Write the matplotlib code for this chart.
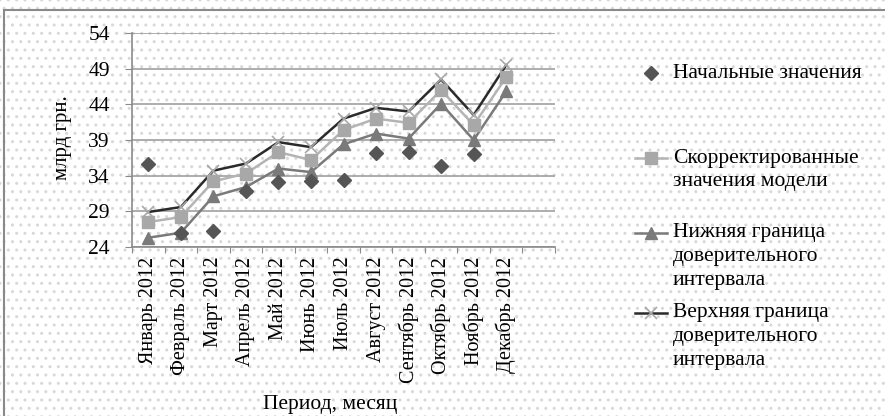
import matplotlib
matplotlib.use("Agg")

import matplotlib.pyplot as plt
import numpy as np
from matplotlib.lines import Line2D
from matplotlib.patches import Rectangle

plt.rcParams['font.family'] = ['Liberation Serif', 'DejaVu Serif']

months = ["Январь 2012", "Февраль 2012", "Март 2012", "Апрель 2012", "Май 2012",
          "Июнь 2012", "Июль 2012", "Август 2012", "Сентябрь 2012",
          "Октябрь 2012", "Ноябрь 2012", "Декабрь 2012"]

initial = [35.7, 25.9, 26.3, 31.9, 33.1, 33.3, 33.4, 37.2, 37.3, 35.3, 37.0, np.nan]
corrected = [27.5, 28.2, 33.2, 34.3, 37.3, 36.2, 40.4, 42.0, 41.4, 46.0, 41.1, 47.8]
lower = [25.3, 26.0, 31.1, 32.4, 35.0, 34.5, 38.4, 39.9, 39.2, 44.1, 39.0, 45.8]
upper = [28.9, 29.6, 34.7, 35.7, 38.7, 38.0, 42.0, 43.5, 43.0, 47.5, 42.5, 49.5]

yticks = [24, 29, 34, 39, 44, 49, 54]

fig = plt.figure(figsize=(8.85, 4.16), dpi=100)

# dotted backdrop and frame
bg = Rectangle((0, 0), 1, 1, transform=fig.transFigure, facecolor='white',
               edgecolor='#d8d8d8', hatch='..', linewidth=0, zorder=-10)
fig.add_artist(bg)
frame = Rectangle((4 / 885, -0.05), 1.0, 1 - 10 / 416 + 0.05, transform=fig.transFigure,
                  facecolor='none', edgecolor='#8a8a8a', linewidth=1.5, zorder=-5)
fig.add_artist(frame)

ax = fig.add_axes([132 / 885, 1 - 247 / 416, (555 - 132) / 885, (247 - 33) / 416])
ax.set_facecolor('none')

x = np.arange(len(months)) + 0.5

ax.plot(x, upper, color='#2a2a2a', lw=1.8, marker='x', ms=9, mew=1.2,
        mec='#a8a8a8', zorder=3)
ax.plot(x, corrected, color='#b4b4b4', lw=1.8, marker='s', ms=8,
        mfc='#a8a8a8', mec='#a8a8a8', zorder=4)
ax.plot(x, lower, color='#7a7a7a', lw=1.8, marker='^', ms=8,
        mfc='#7a7a7a', mec='#7a7a7a', zorder=3)
ax.plot(x, initial, ls='none', marker='D', ms=7, mfc='#555555', mec='#555555', zorder=5)

ax.set_xlim(0, len(months) + 1)
ax.set_ylim(24, 54)
ax.set_yticks(yticks)
ax.set_yticklabels([str(v) for v in yticks], fontsize=15.5)
ax.grid(axis='y', color='#a0a0a0', lw=1.2)
ax.set_axisbelow(True)

ax.set_xticks(np.arange(len(months) + 2))
ax.set_xticklabels([])
ax.set_xticks(x, minor=True)
ax.set_xticklabels(months, minor=True, rotation=90, fontsize=14.5)
ax.tick_params(axis='x', which='minor', length=0, pad=7)
ax.tick_params(axis='x', which='major', length=4, color='#8a8a8a')
ax.tick_params(axis='y', length=5, color='#8a8a8a', pad=11)

for s in ['top', 'right']:
    ax.spines[s].set_visible(False)
for s in ['left', 'bottom']:
    ax.spines[s].set_color('#8a8a8a')
    ax.spines[s].set_linewidth(1.2)

fig.text(62 / 885, 1 - 138 / 416, "млрд грн.", rotation=90, fontsize=15,
         ha='center', va='center')
fig.text(330 / 885, 1 - 405 / 416, "Период, месяц", fontsize=15.5,
         ha='center', va='center')

# legend drawn in figure pixels
def fx(px):
    return px / 885

def fy(py):
    return 1 - py / 416

entries = [
    (73, ["Начальные значения"], dict(ls='none', marker='D', ms=7, mfc='#555555', mec='#555555')),
    (158, ["Скорректированные", "значения модели"],
     dict(color='#b4b4b4', lw=1.8, marker='s', ms=8, mfc='#a8a8a8', mec='#a8a8a8')),
    (233, ["Нижняя граница", "доверительного", "интервала"],
     dict(color='#7a7a7a', lw=1.8, marker='^', ms=8, mfc='#7a7a7a', mec='#7a7a7a')),
    (313, ["Верхняя граница", "доверительного", "интервала"],
     dict(color='#2a2a2a', lw=1.8, marker='x', ms=9, mew=1.2, mec='#a8a8a8')),
]
for ypx, lines, style in entries:
    handle = Line2D([fx(635), fx(651), fx(667)], [fy(ypx)] * 3,
                    transform=fig.transFigure, markevery=[1], **style)
    fig.add_artist(handle)
    for i, line in enumerate(lines):
        fig.text(fx(673), fy(ypx + i * 23.5), line, fontsize=15.5, ha='left', va='center')

fig.savefig('out.png', dpi=100)
